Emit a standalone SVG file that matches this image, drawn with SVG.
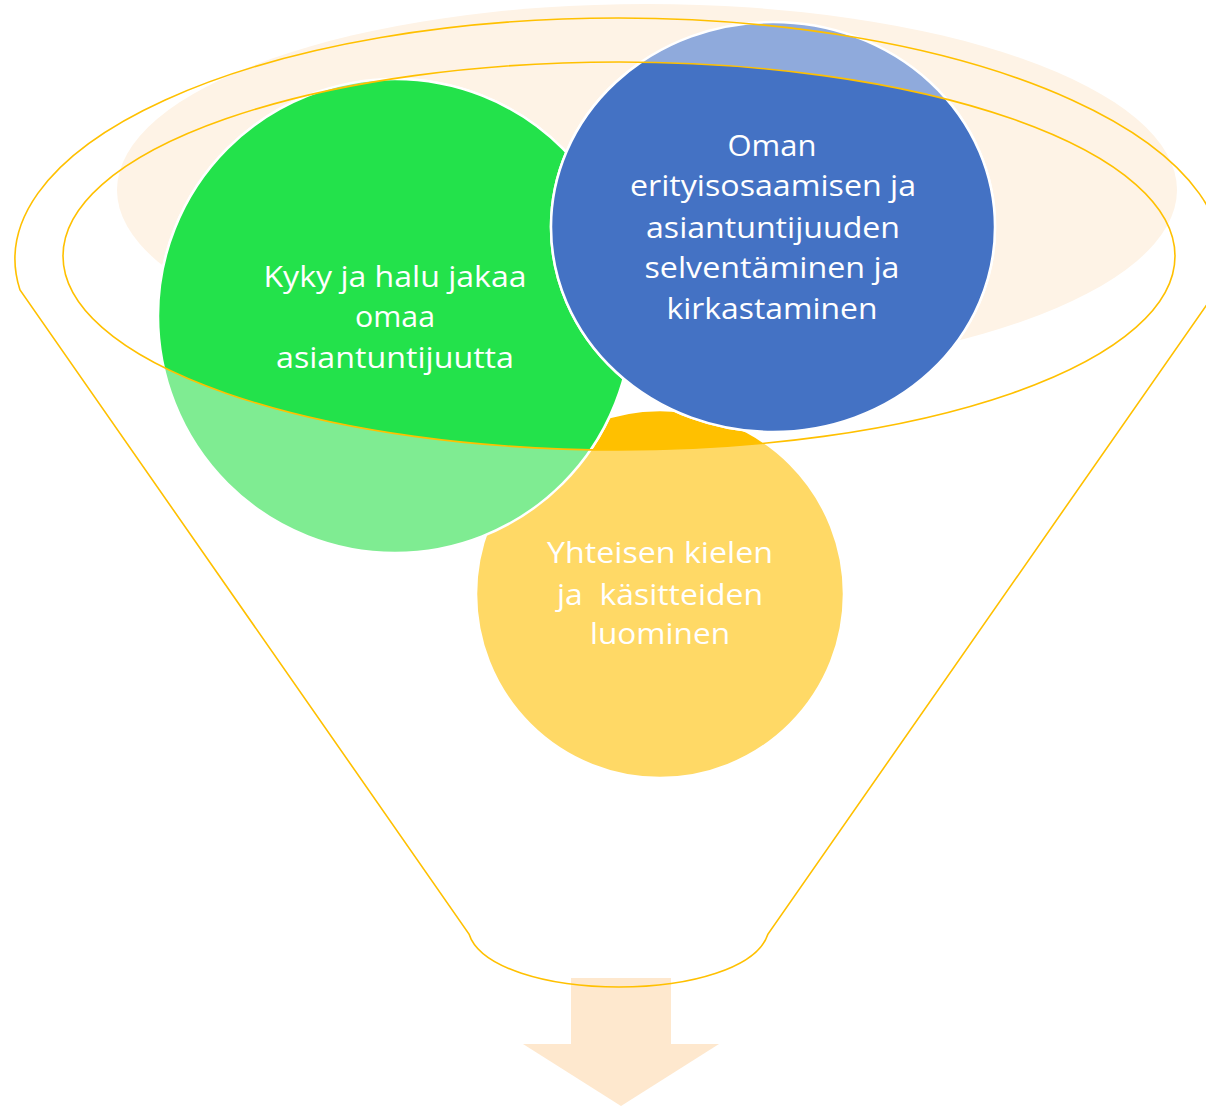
<svg xmlns="http://www.w3.org/2000/svg" width="1206" height="1106" viewBox="0 0 1206 1106">
<style>
.ln{fill:none;stroke:#FFC000;stroke-width:1.6}
.tx{font-family:"Open Sans","Liberation Sans",sans-serif;font-size:29.5px;fill:#FFFFFF;text-anchor:middle;white-space:pre}
.ring{stroke:#FFFFFF;stroke-width:2.5}
</style>
<defs>
<clipPath id="inner"><ellipse cx="619" cy="256" rx="556" ry="194"/></clipPath>
</defs>
<rect width="1206" height="1106" fill="#FFFFFF"/>
<g id="arrow">
<path d="M571,978 H671 V1044 H719 L621,1106 L523,1044 H571 Z" fill="#FEE8CE"/>
</g>
<g id="funnel-back">
<ellipse cx="647" cy="190" rx="530" ry="186" fill="#FEF3E6"/>
</g>
<g id="node-yellow">
<circle cx="660" cy="594" r="184" fill="#FFD966" class="ring"/>
<circle cx="660" cy="594" r="184" fill="#FFC000" class="ring" clip-path="url(#inner)"/>
</g>
<g id="node-green">
<circle cx="395" cy="316" r="237" fill="#7FEC92" class="ring"/>
<circle cx="395" cy="316" r="237" fill="#23E24B" class="ring" clip-path="url(#inner)"/>
</g>
<g id="node-blue">
<ellipse cx="773" cy="227" rx="222" ry="205" fill="#8FAADC" class="ring"/>
<ellipse cx="773" cy="227" rx="222" ry="205" fill="#4472C4" class="ring" clip-path="url(#inner)"/>
</g>
<g id="funnel">
<path class="ln" d="M20,290 A603.5,241 0 1 1 1217,290 L768,934 C757,968 690,987 619,987 C548,987 480,968 469,934 Z"/>
<ellipse class="ln" cx="619" cy="256" rx="556" ry="194"/>
</g>
<g id="labels">
<text class="tx" x="395" y="287" textLength="263" lengthAdjust="spacingAndGlyphs">Kyky ja halu jakaa</text>
<text class="tx" x="395" y="327" textLength="80" lengthAdjust="spacingAndGlyphs">omaa</text>
<text class="tx" x="395" y="368" textLength="238" lengthAdjust="spacingAndGlyphs">asiantuntijuutta</text>
<text class="tx" x="772" y="156" textLength="89" lengthAdjust="spacingAndGlyphs">Oman</text>
<text class="tx" x="773" y="196" textLength="286" lengthAdjust="spacingAndGlyphs">erityisosaamisen ja</text>
<text class="tx" x="773" y="238" textLength="254" lengthAdjust="spacingAndGlyphs">asiantuntijuuden</text>
<text class="tx" x="772" y="278" textLength="255" lengthAdjust="spacingAndGlyphs">selventäminen ja</text>
<text class="tx" x="772" y="319" textLength="211" lengthAdjust="spacingAndGlyphs">kirkastaminen</text>
<text class="tx" x="660" y="563" textLength="226" lengthAdjust="spacingAndGlyphs">Yhteisen kielen</text>
<text class="tx" x="660" y="605" textLength="206" lengthAdjust="spacingAndGlyphs" xml:space="preserve">ja  käsitteiden</text>
<text class="tx" x="660" y="644" textLength="140" lengthAdjust="spacingAndGlyphs">luominen</text>
</g>
</svg>
